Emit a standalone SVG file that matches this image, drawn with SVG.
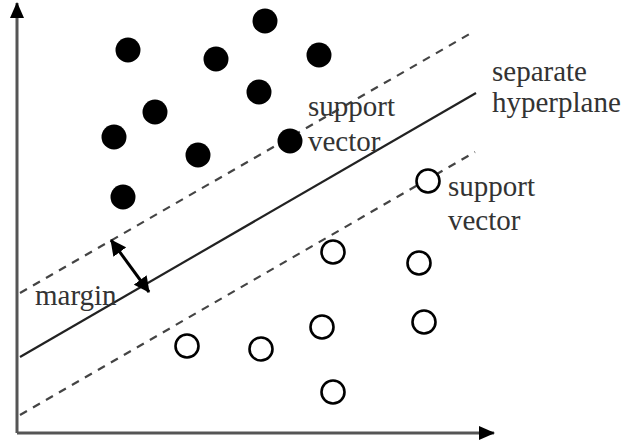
<svg xmlns="http://www.w3.org/2000/svg" width="624" height="443" viewBox="0 0 624 443">
<style>
.axis{stroke:#555;stroke-width:3;fill:none}
.dash{stroke:#444;stroke-width:2.2;stroke-dasharray:8 7;fill:none}
.solid{stroke:#222;stroke-width:2.2;fill:none}
.pos{fill:#000}
.neg{fill:#fff;stroke:#000;stroke-width:2.6}
.lbl{font-family:"Liberation Serif","Times New Roman",serif;font-size:29px;fill:#333}
</style>
<defs>
<marker id="ax" markerWidth="16" markerHeight="14" refX="15" refY="7" orient="auto" markerUnits="userSpaceOnUse" viewBox="0 0 16 14">
<path d="M0,0 L16,7 L0,14 z" fill="#000"/>
</marker>
<marker id="mh" markerWidth="16" markerHeight="16" refX="15" refY="8" orient="auto-start-reverse" markerUnits="userSpaceOnUse" viewBox="0 0 16 16">
<path d="M0,0 L16,8 L0,16 z" fill="#000"/>
</marker>
</defs>
<g id="connectors">
<line id="y-axis" class="axis" x1="17" y1="433" x2="17" y2="3" marker-end="url(#ax)"/>
<line id="x-axis" class="axis" x1="17" y1="433" x2="494" y2="433" marker-end="url(#ax)"/>
<line id="upper-margin" class="dash" x1="20" y1="293" x2="473" y2="32"/>
<line id="hyperplane" class="solid" x1="20" y1="357" x2="476" y2="93"/>
<line id="lower-margin" class="dash" x1="20" y1="415" x2="475" y2="152"/>
<line id="margin-arrow" x1="111" y1="240" x2="149" y2="292" stroke="#000" stroke-width="3" marker-start="url(#mh)" marker-end="url(#mh)"/>
</g>
<g id="class-positive">
<circle class="pos" cx="128" cy="50" r="12.5"/>
<circle class="pos" cx="265" cy="21" r="12.5"/>
<circle class="pos" cx="216" cy="59" r="12.5"/>
<circle class="pos" cx="319" cy="55" r="12.5"/>
<circle class="pos" cx="259" cy="92" r="12.5"/>
<circle class="pos" cx="155" cy="112" r="12.5"/>
<circle class="pos" cx="114" cy="137" r="12.5"/>
<circle class="pos" cx="198" cy="155" r="12.5"/>
<circle class="pos" cx="290" cy="141" r="12.5"/>
<circle class="pos" cx="123" cy="197" r="12.5"/>
</g>
<g id="class-negative">
<circle class="neg" cx="428" cy="181" r="11.5"/>
<circle class="neg" cx="333" cy="252" r="11.5"/>
<circle class="neg" cx="419" cy="263" r="11.5"/>
<circle class="neg" cx="322" cy="327" r="11.5"/>
<circle class="neg" cx="424" cy="322" r="11.5"/>
<circle class="neg" cx="187" cy="346" r="11.5"/>
<circle class="neg" cx="261" cy="349" r="11.5"/>
<circle class="neg" cx="333" cy="392" r="11.5"/>
</g>
<g id="label-hyperplane">
<text class="lbl" x="492" y="81">separate</text>
<text class="lbl" x="492" y="112">hyperplane</text>
</g>
<g id="label-support-upper">
<text class="lbl" x="308" y="116">support</text>
<text class="lbl" x="308" y="151">vector</text>
</g>
<g id="label-support-lower">
<text class="lbl" x="448" y="196">support</text>
<text class="lbl" x="448" y="230">vector</text>
</g>
<g id="label-margin">
<text class="lbl" x="35" y="305">margin</text>
</g>
</svg>
